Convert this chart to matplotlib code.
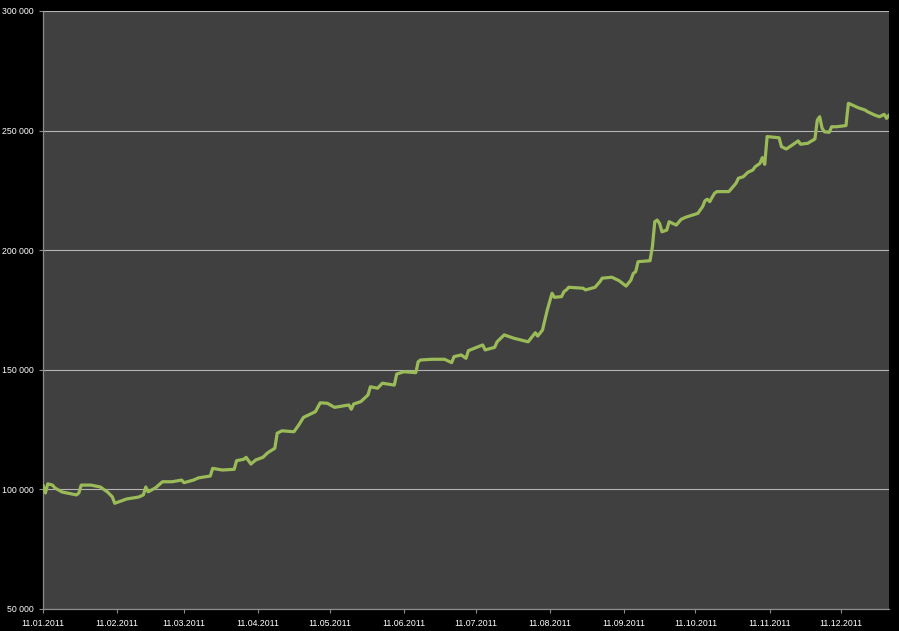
import matplotlib
matplotlib.use("Agg")
import matplotlib.pyplot as plt
import matplotlib.dates as mdates
from matplotlib.ticker import FuncFormatter, MultipleLocator
import datetime as dt

plt.rcParams["font.family"] = ["Liberation Sans", "DejaVu Sans"]

start_date = dt.date(2011, 1, 11)
end_date = dt.date(2011, 12, 31)

# days after 11.01.2011
day_offsets = [
    0, 1, 2, 4, 5, 8, 14, 15, 16, 20, 24, 27, 29, 30, 32, 35, 40, 42, 43, 44,
    47, 50, 54, 58, 59, 63, 65,
    70, 71, 75, 80, 81, 84, 85, 87, 89, 92, 94, 97, 98, 100, 105, 107, 109,
    114, 116, 119, 122, 128, 129, 130, 133, 136, 137, 140, 142, 147, 148, 151,
    156, 157, 158, 163, 168, 171, 172, 175, 177, 178, 184, 185, 189, 190, 193,
    197, 203, 206, 207, 209, 211, 213, 214,
    217, 218, 219, 220, 226, 227, 231, 233, 234, 238, 241, 244, 246, 247, 248,
    249, 254, 255, 256, 257, 258, 259, 261, 262, 265, 267, 269, 274, 276, 277,
    278, 279, 280,
    281, 282, 287, 290, 291, 293, 295, 297, 298, 300, 301, 302, 303, 308, 309,
    311, 314, 316, 317, 320, 323, 324, 325, 326, 327, 329, 330, 332, 336, 337,
    338, 341, 344, 345, 348, 350, 352, 353, 354,
]

balance = [
    101800, 98500, 102300, 101800, 100600, 98900, 97700, 98500, 101800, 101800,
    101000, 98900, 96900, 94200, 94900, 96000, 96800, 97700, 101000, 99000,
    100600, 103200, 103200, 103900, 102800, 103900, 104800,
    105600, 108800, 108100, 108400, 112000, 112600, 113400, 110600, 112300,
    113400, 115300, 117200, 123500, 124500, 124100, 126900, 130100,
    132500, 136200, 136000, 134300, 135300, 133500, 135700, 136700, 139500,
    142900, 142300, 144400, 143600, 148200, 149200,
    148800, 153400, 154100, 154400, 154400, 153000, 155500, 156200, 154800,
    158000, 160400, 158300, 159400, 161700, 164600,
    163200, 161700, 165500, 164100, 166600, 175000, 182000, 180300,
    180600, 182700, 183400, 184500, 184100, 183400, 184500, 186800, 188300,
    188700, 187300, 185000, 187500, 190300, 191000,
    195200, 195600, 201500, 211900, 212600, 211200, 207700, 208400, 211900,
    210500, 212900, 213800, 215400, 218200, 220700,
    221300, 220300, 222100,
    223800, 224500, 224500, 228000, 230100, 230700, 232600, 233500, 234900,
    236300, 238700, 235900, 247500, 247000, 243300,
    242300, 244300, 245700, 244300, 244700, 246500, 254400, 255800, 251000,
    249500, 249300, 251600, 251600, 252100, 261400,
    261000, 259600, 258600, 257900, 256500, 255800, 256800, 255100, 256500,
]

x_tick_dates = [dt.date(2011, m, 11) for m in range(1, 13)]
y_min, y_max, y_step = 50000, 300000, 50000

dates = [start_date + dt.timedelta(days=d) for d in day_offsets]

W, H = 899, 631
fig = plt.figure(figsize=(W / 100, H / 100), dpi=100, facecolor="black")
ax = fig.add_axes([43 / W, (H - 609) / H, (889 - 43) / W, (609 - 11) / H])
ax.set_facecolor("#404040")

ax.plot(dates, balance, color="#9bbb59", linewidth=2.3, solid_joinstyle="round",
        solid_capstyle="round", zorder=3)

ax.set_ylim(y_min, y_max)
ax.set_xlim(start_date, end_date)
ax.yaxis.set_major_locator(MultipleLocator(y_step))
ax.yaxis.set_major_formatter(FuncFormatter(lambda v, p: f"{int(v):,}".replace(",", " ")))
ax.set_xticks(x_tick_dates)
ax.xaxis.set_major_formatter(mdates.DateFormatter("%d.%m.%Y"))

ax.grid(axis="y", color="#b4b4b4", linewidth=0.8, zorder=1)
ax.set_axisbelow(True)

for s in ["top", "right"]:
    ax.spines[s].set_visible(False)
for s in ["left", "bottom"]:
    ax.spines[s].set_color("#8c8c8c")
    ax.spines[s].set_linewidth(0.9)

ax.tick_params(axis="both", colors="#8c8c8c", length=3, width=0.8,
               labelcolor="white", labelsize=6.3)
ax.tick_params(axis="y", pad=4)
ax.tick_params(axis="x", pad=4)

fig.savefig("out.png", dpi=100, facecolor="black")
